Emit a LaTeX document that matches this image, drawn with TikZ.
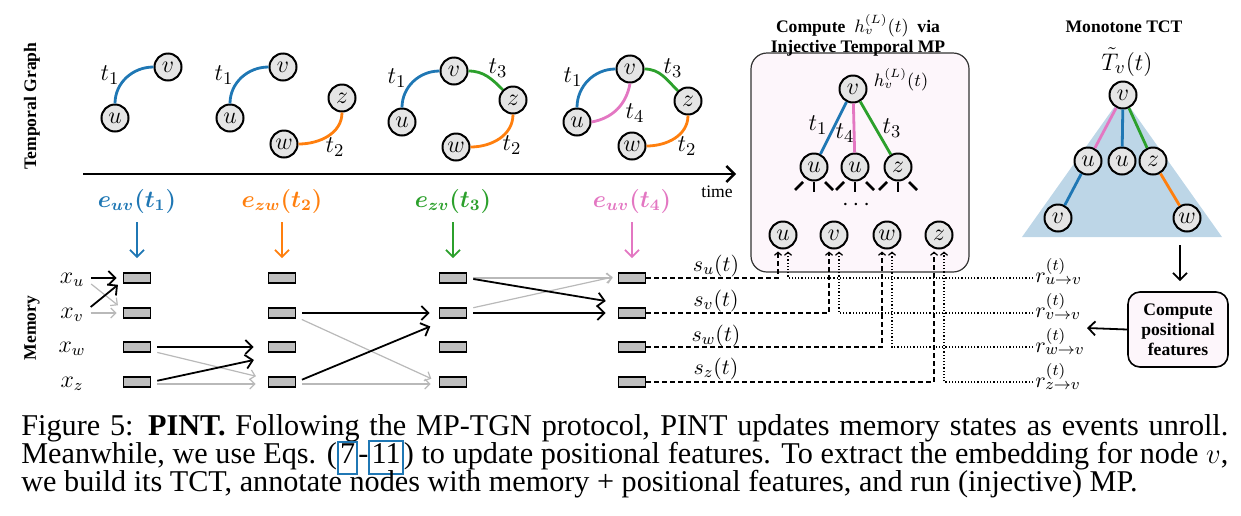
\documentclass[tikz,border=0pt]{standalone}
\usepackage{amsmath}
\usepackage{amssymb}
\usepackage[no-math]{fontspec}
\setmainfont{Liberation Serif}
\usepackage{tikz}
\usetikzlibrary{arrows.meta}
\definecolor{tblue}{RGB}{31,119,180}
\definecolor{torange}{RGB}{255,127,14}
\definecolor{tgreen}{RGB}{44,160,44}
\definecolor{tpink}{RGB}{227,119,194}
\definecolor{tctblue}{RGB}{189,214,231}
\definecolor{mpfill}{RGB}{253,246,251}
\newcommand{\event}[2]{\boldsymbol{e_{#1}(t_{#2})}}
\newcommand{\state}[1]{s_{#1}(t)}
\newcommand{\posfeat}[1]{r^{(t)}_{#1\to v}}
\newcommand{\eqlink}[1]{{\setlength{\fboxsep}{0.6pt}\setlength{\fboxrule}{1pt}\fcolorbox{tblue}{white}{\strut#1}}}
\tikzset{
  vtx/.style={circle, draw, line width=1pt, fill=gray!20, minimum size=13.5pt, inner sep=0pt, font=\fontsize{13}{15}\selectfont},
  memcell/.style={draw, line width=0.9pt, fill=gray!50, minimum width=13.5pt, minimum height=5pt, inner sep=0pt},
  tedge/.style={line width=1.4pt},
  boldlbl/.style={font=\fontsize{8.8}{10}\selectfont\bfseries, align=center},
  tlbl/.style={font=\fontsize{12.5}{14}\selectfont, inner sep=0pt},
  mathlbl/.style={font=\fontsize{11}{13}\selectfont},
  upd/.style={line width=0.9pt, -{Straight Barb[length=3.5pt,width=7pt]}},
  keep/.style={gray!55, line width=0.6pt, -{Straight Barb[length=2.5pt,width=5pt]}},
  feed/.style={line width=0.6pt, -{Straight Barb[length=1.5pt,width=3.5pt]}},
  leg/.style={line width=1.3pt},
  caption/.style={font=\fontsize{15.1}{14}\selectfont, anchor=base west, inner sep=0pt},
}
\begin{document}
\begin{tikzpicture}[x=0.5pt, y=-0.5pt]
\useasboundingbox (0,0) rectangle (1241,515);

% row labels
\node[boldlbl, rotate=90] (tglabel) at (32,106) {Temporal Graph};
\node[boldlbl, rotate=90] (memlabel) at (32,328) {Memory};

% snapshot after t_1
\node[vtx] (u1) at (115,118) {$u$};
\node[vtx] (v1) at (168,67) {$v$};
\draw[tedge, tblue] (u1.north) to[out=90, in=180] (v1.west);
\node[tlbl] (ta1) at (110,75) {$t_1$};

% snapshot after t_2
\node[vtx] (u2) at (230,118) {$u$};
\node[vtx] (v2) at (283,67) {$v$};
\node[vtx] (z2) at (342,98) {$z$};
\node[vtx] (w2) at (284,144) {$w$};
\draw[tedge, tblue] (u2.north) to[out=90, in=180] (v2.west);
\draw[tedge, torange] (w2.east) to[out=0, in=-90] (z2.south);
\node[tlbl] (ta2) at (224,75) {$t_1$};
\node[tlbl] (tb2) at (335,147) {$t_2$};

% snapshot after t_3
\node[vtx] (u3) at (402,122) {$u$};
\node[vtx] (v3) at (454,71) {$v$};
\node[vtx] (z3) at (513,100) {$z$};
\node[vtx] (w3) at (456,147) {$w$};
\draw[tedge, tblue] (u3.north) to[out=90, in=180] (v3.west);
\draw[tedge, tgreen] (v3.east) to[out=0, in=135] (z3.135);
\draw[tedge, torange] (w3.east) to[out=0, in=-90] (z3.south);
\node[tlbl] (ta3) at (397,78) {$t_1$};
\node[tlbl] (tc3) at (498,68) {$t_3$};
\node[tlbl] (tb3) at (512,145) {$t_2$};

% snapshot after t_4
\node[vtx] (u4) at (577,122) {$u$};
\node[vtx] (v4) at (630,69) {$v$};
\node[vtx] (z4) at (688,101) {$z$};
\node[vtx] (w4) at (632,146) {$w$};
\draw[tedge, tblue] (u4.north) to[out=90, in=180] (v4.west);
\draw[tedge, tgreen] (v4.east) to[out=0, in=135] (z4.135);
\draw[tedge, torange] (w4.east) to[out=0, in=-90] (z4.south);
\draw[tedge, tpink] (u4.east) to[out=10, in=-100] (v4.south);
\node[tlbl] (ta4) at (573,77) {$t_1$};
\node[tlbl] (tc4) at (673,68) {$t_3$};
\node[tlbl] (td4) at (635,113) {$t_4$};
\node[tlbl] (tb4) at (687,146) {$t_2$};

% time axis
\coordinate (tstart) at (83,174);
\coordinate (tend) at (736,174);
\draw[line width=1.2pt, -{Straight Barb[length=4pt,width=8pt]}] (tstart) -- (tend);
\node[font=\fontsize{8.8}{10}\selectfont] (timelbl) at (717,192) {time};

% events and memory cells
\foreach \c/\x/\col/\pair/\k in {1/137/tblue/uv/1, 2/282/torange/zw/2, 3/453/tgreen/zv/3, 4/632/tpink/uv/4} {
  \node[text=\col, font=\large] (ev\c) at (\x,201) {$\event{\pair}{\k}$};
  \foreach \r/\y in {1/278, 2/313, 3/347, 4/382}
    \node[memcell] (m\c\r) at (\x,\y) {};
  \draw[upd, \col, shorten <=1pt, shorten >=7pt] (ev\c) -- (m\c1);
}
\foreach \r/\n/\y in {1/u/280, 2/v/315, 3/w/349, 4/z/384}
  \node[font=\large] (x\r) at (72,\y) {$x_\n$};

% initial states
\draw[keep, shorten >=3pt] ([yshift=-2pt]x1.east) -- ([yshift=2pt]m12.west);
\draw[keep, shorten >=3pt] (x2.east |- m12.west) -- (m12.west);
\draw[upd, shorten >=3pt] (x1.east |- m11.west) -- (m11.west);
\draw[upd, shorten >=3pt] ([yshift=4pt]x2.east) -- ([yshift=-1.5pt]m11.west);

% after e_zw(t_2)
\draw[keep, shorten <=3pt, shorten >=6pt] ([yshift=-2pt]m13.east) -- ([yshift=1.5pt]m24.west);
\draw[keep, shorten <=3pt, shorten >=6pt] ([yshift=-1pt]m14.east) -- ([yshift=-1pt]m24.west);
\draw[upd, shorten <=3pt, shorten >=7pt] (m13.east) -- (m23.west);
\draw[upd, shorten <=3pt, shorten >=7pt] (m14.east) -- ([yshift=-5pt]m23.west);

% after e_zv(t_3)
\draw[keep, shorten <=3pt, shorten >=4pt] ([yshift=-2pt]m22.east) -- (m34.west);
\draw[keep, shorten <=3pt, shorten >=4pt] ([yshift=-1pt]m24.east) -- ([yshift=-1pt]m34.west);
\draw[upd, shorten <=3pt, shorten >=4.5pt] (m22.east) -- (m32.west);
\draw[upd, shorten <=3pt, shorten >=4.5pt] (m24.east) -- ([yshift=-5pt]m32.west);

% after e_uv(t_4)
\draw[keep, shorten <=3pt, shorten >=2.5pt] (m31.east) -- (m41.west);
\draw[keep, shorten <=3pt, shorten >=2.5pt] ([yshift=2pt]m32.east) -- ([yshift=1pt]m41.west);
\draw[upd, shorten <=3pt, shorten >=6pt] (m31.east) -- ([yshift=5pt]m42.west);
\draw[upd, shorten <=3pt, shorten >=6pt] (m32.east) -- (m42.west);

% injective temporal MP
\node[draw=black!80, line width=0.6pt, rounded corners=8pt, fill=mpfill, minimum width=109pt, minimum height=109.5pt] (mpbox) at (860,162.5) {};
\node[boldlbl] (mptitle) at (858,35) {Compute \ $h_v^{(L)}(t)$ \ via\\Injective Temporal MP};
\node[vtx] (mv) at (853,89) {$v$};
\node[font=\fontsize{9}{11}\selectfont] (mh) at (901,80) {$h_v^{(L)}(t)$};
\node[vtx] (mu1) at (814,167) {$u$};
\node[vtx] (mu2) at (855,167) {$u$};
\node[vtx] (mz) at (898,167) {$z$};
\draw[tedge, tblue] (mv) -- (mu1);
\draw[tedge, tpink] (mv) -- (mu2);
\draw[tedge, tgreen] (mv) -- (mz);
\node[tlbl] (mt1) at (818,125) {$t_1$};
\node[tlbl] (mt4) at (845,133) {$t_4$};
\node[tlbl] (mt3) at (892,128) {$t_3$};
\foreach \n in {mu1, mu2, mz} {
  \draw[leg] ([shift={(-11,15)}]\n.center) -- ++(-8,8);
  \draw[leg] ([shift={(0,15)}]\n.center) -- ++(0,10);
  \draw[leg] ([shift={(11,15)}]\n.center) -- ++(8,8);
}
\node[font=\large] (mdots) at (858,205) {$\cdots$};
\foreach \n/\x in {u/783, v/834, w/887, z/939}
  \node[vtx] (b\n) at (\x,235) {$\n$};

% memory states s
\foreach \r/\n/\y in {1/u/271.5, 2/v/306.5, 3/w/341.5, 4/z/374.5}
  \node[mathlbl, anchor=base] (s\r) at (716,\y) {$\state{\n}$};
\foreach \r/\n in {1/u, 2/v, 3/w, 4/z}
  \draw[feed, dash pattern=on 2.5pt off 1.5pt, shorten >=1pt] (m4\r.east) -| ([xshift=-2.5pt]b\n.south);

% positional features r
\foreach \r/\n/\y in {1/u/277, 2/v/312, 3/w/347, 4/z/382} {
  \node[mathlbl, anchor=base west, inner sep=0pt] (r\r) at (1035,\y+5) {$\posfeat{\n}$};
  \draw[feed, densely dotted, shorten >=1pt] ([xshift=-1pt]r\r.west |- m4\r.east) -| ([xshift=2.5pt]b\n.south);
}

% monotone TCT
\node[boldlbl] (tcttitle) at (1124,27) {Monotone TCT};
\node[font=\fontsize{13}{15}\selectfont, inner sep=1pt] (tctname) at (1127,62) {$\tilde{T}_v(t)$};
\coordinate (apex) at (1122,96);
\coordinate (baseL) at (1022,237);
\coordinate (baseR) at (1222,237);
\fill[tctblue] (apex) -- (baseL) -- (baseR) -- cycle;
\node[vtx] (tv) at (1123,95) {$v$};
\node[vtx] (tu1) at (1088,161) {$u$};
\node[vtx] (tu2) at (1122,161) {$u$};
\node[vtx] (tz) at (1153,161) {$z$};
\node[vtx] (tv2) at (1058,218) {$v$};
\node[vtx] (tw) at (1187,218) {$w$};
\draw[tedge, tpink] (tv) -- (tu1);
\draw[tedge, tblue] (tv) -- (tu2);
\draw[tedge, tgreen] (tv) -- (tz);
\draw[tedge, tblue] (tu1) -- (tv2);
\draw[tedge, torange] (tz) -- (tw);

% positional features box
\node[boldlbl, draw, line width=0.8pt, rounded corners=6pt, fill=mpfill, minimum width=50pt, minimum height=37.5pt] (pbox) at (1178,329.5) {Compute\\positional\\features};
\coordinate (tctout) at (1180,245);
\draw[upd, shorten >=5pt] (tctout) -- (tctout |- pbox.north);
\coordinate (rin) at (1087,328);
\draw[upd] (pbox.west) -- (rin);

% caption
\node[caption] (cap1) at (21,435.5) {\makebox[603.5pt][s]{Figure 5: \textbf{PINT.} Following the MP-TGN protocol, PINT updates memory states as events unroll.}};
\node[caption] (cap2) at (21,463.5) {\makebox[603.5pt][s]{Meanwhile, we use Eqs. (\eqlink{7}-\eqlink{11}) to update positional features. To extract the embedding for node $v$,}};
\node[caption] (cap3) at (21,491.5) {we build its TCT, annotate nodes with memory + positional features, and run (injective) MP.};

\end{tikzpicture}
\end{document}
